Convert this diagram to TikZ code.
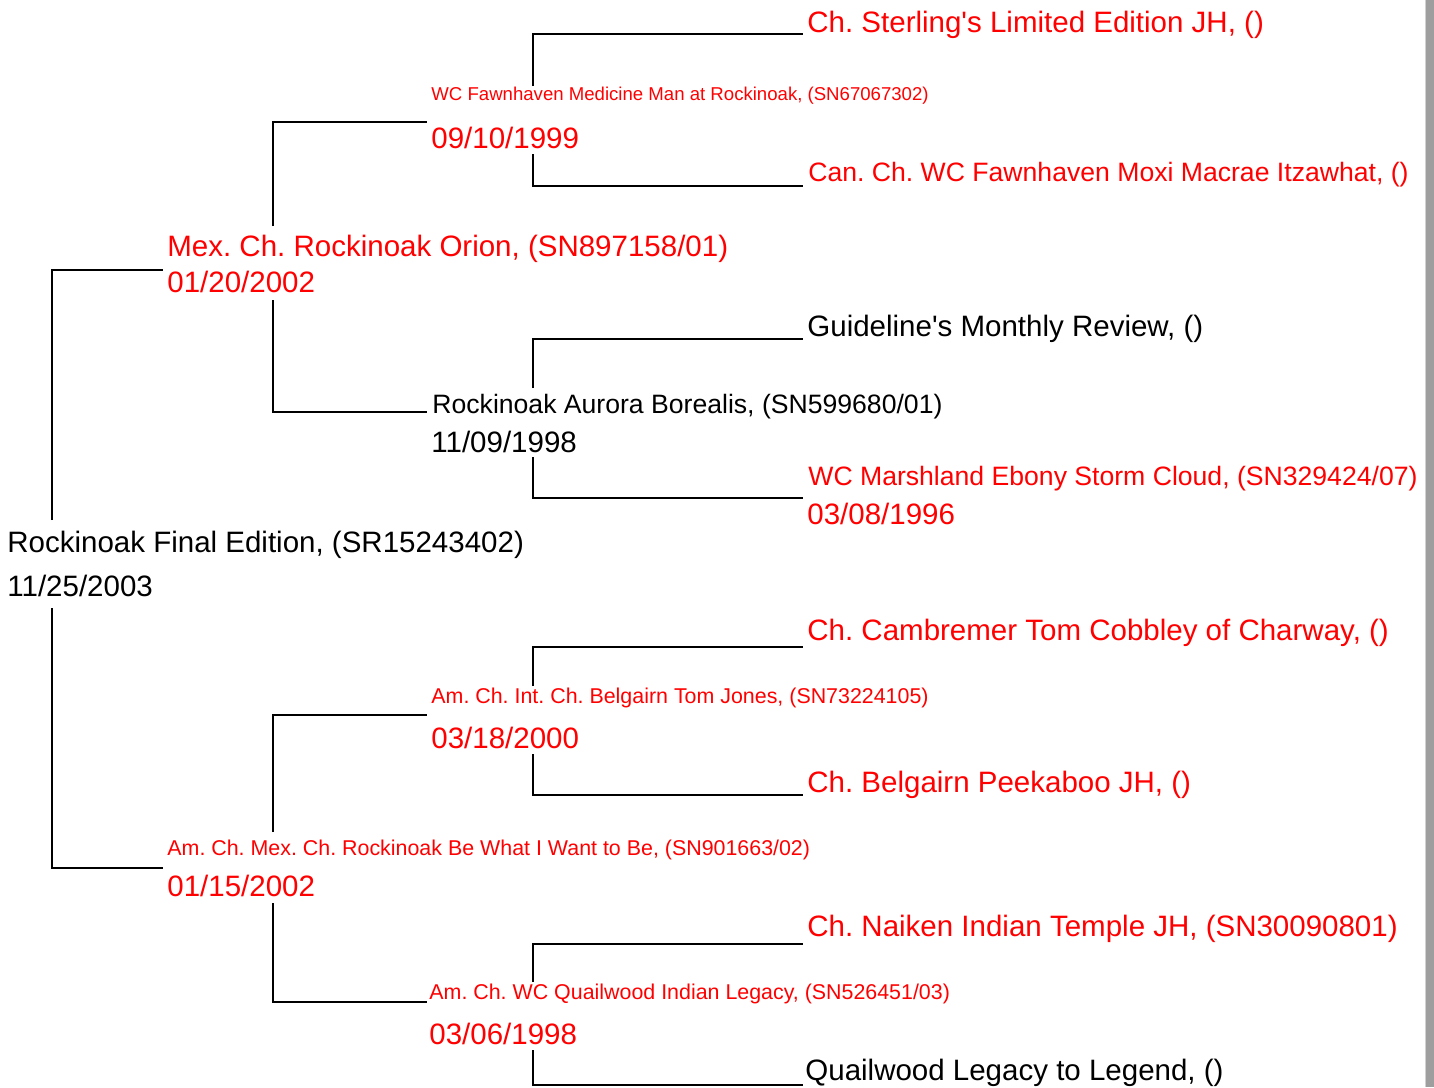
\documentclass[tikz,border=0pt]{standalone}
\usepackage{fontspec}
\setmainfont{Liberation Sans}
\usepackage{tikz}
\frenchspacing

\tikzset{
  big/.style={anchor=base west,inner sep=0pt,font=\fontsize{14.75}{17}\selectfont},
  long/.style={anchor=base west,inner sep=0pt,font=\fontsize{13.3}{16}\selectfont},
  small/.style={anchor=base west,inner sep=0pt,font=\fontsize{10.7}{12}\selectfont},
  tiny/.style={anchor=base west,inner sep=0pt,font=\fontsize{9.3}{11}\selectfont},
  bar/.style={draw=black,line width=1.15pt}
}

\begin{document}
\begin{tikzpicture}[x=0.5pt,y=-0.5pt]
\useasboundingbox (0,0) rectangle (1434,1087);
\fill[white] (0,0) rectangle (1434,1087);
\fill[black!38] (1426,0) rectangle (1434,1087);
\draw[black!18,line width=0.5pt] (1425.5,0) -- (1425.5,1087);

% dog
\node[big] (r) at (7,552) {Rockinoak Final Edition, (SR15243402)};
\node[big] (rd) at (7,596) {11/25/2003};

% sire side
\node[big,red] (s) at (167,256) {Mex. Ch. Rockinoak Orion, (SN897158/01)};
\node[big,red] (sd) at (167,292) {01/20/2002};
\node[tiny,red] (ss) at (431,100) {WC Fawnhaven Medicine Man at Rockinoak, (SN67067302)};
\node[big,red] (ssd) at (431,148) {09/10/1999};
\node[big,red] (sss) at (807,32) {Ch. Sterling\textquotesingle s Limited Edition JH, ()};
\node[long,red] (ssm) at (808,181) {Can. Ch. WC Fawnhaven Moxi Macrae Itzawhat, ()};
\node[long] (sm) at (432,413) {Rockinoak Aurora Borealis, (SN599680/01)};
\node[big] (smd) at (431,452) {11/09/1998};
\node[big] (sms) at (807,336) {Guideline\textquotesingle s Monthly Review, ()};
\node[long,red] (smm) at (808,485) {WC Marshland Ebony Storm Cloud, (SN329424/07)};
\node[big,red] (smmd) at (807,524) {03/08/1996};

% dam side
\node[small,red] (m) at (167,855) {Am. Ch. Mex. Ch. Rockinoak Be What I Want to Be, (SN901663/02)};
\node[big,red] (md) at (167,896) {01/15/2002};
\node[small,red] (ms) at (431,703) {Am. Ch. Int. Ch. Belgairn Tom Jones, (SN73224105)};
\node[big,red] (msd) at (431,748) {03/18/2000};
\node[big,red] (mss) at (807,640) {Ch. Cambremer Tom Cobbley of Charway, ()};
\node[big,red] (msm) at (807,792) {Ch. Belgairn Peekaboo JH, ()};
\node[small,red] (mm) at (429,999) {Am. Ch. WC Quailwood Indian Legacy, (SN526451/03)};
\node[big,red] (mmd) at (429,1044) {03/06/1998};
\node[big,red] (mms) at (807,936) {Ch. Naiken Indian Temple JH, (SN30090801)};
\node[big] (mmm) at (805,1080) {Quailwood Legacy to Legend, ()};

% where the bars leave and reach
\coordinate (r-up) at (52,520);    \coordinate (r-dn) at (52,608);
\coordinate (s-in) at (163,270);   \coordinate (m-in) at (163,868);
\coordinate (s-up) at (273,226);   \coordinate (s-dn) at (273,300);
\coordinate (ss-in) at (427,122);  \coordinate (sm-in) at (427,412);
\coordinate (ss-up) at (533,86);   \coordinate (ss-dn) at (533,154);
\coordinate (sss-in) at (803,34);  \coordinate (ssm-in) at (803,186);
\coordinate (sm-up) at (533,388);  \coordinate (sm-dn) at (533,457);
\coordinate (sms-in) at (803,339); \coordinate (smm-in) at (803,498);
\coordinate (m-up) at (273,832);   \coordinate (m-dn) at (273,903);
\coordinate (ms-in) at (427,715);  \coordinate (mm-in) at (427,1002);
\coordinate (ms-up) at (533,686);  \coordinate (ms-dn) at (533,754);
\coordinate (mss-in) at (803,647); \coordinate (msm-in) at (803,795);
\coordinate (mm-up) at (533,982);  \coordinate (mm-dn) at (533,1050);
\coordinate (mms-in) at (803,944); \coordinate (mmm-in) at (803,1085);

\draw[bar] (r-up) |- (s-in);
\draw[bar] (r-dn) |- (m-in);
\draw[bar] (s-up) |- (ss-in);
\draw[bar] (s-dn) |- (sm-in);
\draw[bar] (ss-up) |- (sss-in);
\draw[bar] (ss-dn) |- (ssm-in);
\draw[bar] (sm-up) |- (sms-in);
\draw[bar] (sm-dn) |- (smm-in);
\draw[bar] (m-up) |- (ms-in);
\draw[bar] (m-dn) |- (mm-in);
\draw[bar] (ms-up) |- (mss-in);
\draw[bar] (ms-dn) |- (msm-in);
\draw[bar] (mm-up) |- (mms-in);
\draw[bar] (mm-dn) |- (mmm-in);
\end{tikzpicture}
\end{document}
